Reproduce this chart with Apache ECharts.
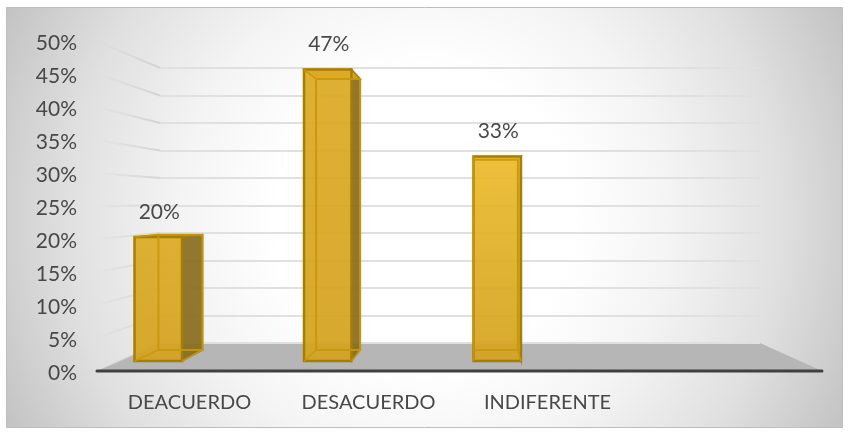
<!DOCTYPE html>
<html><head><meta charset="utf-8">
<style>html,body{margin:0;padding:0;background:#fff}#c{width:849px;height:433px}</style>
<script src="https://cdn.jsdelivr.net/npm/echarts@6/dist/echarts.min.js"></script>
</head><body><div id="c"></div>
<script>
const categories = ['DEACUERDO', 'DESACUERDO', 'INDIFERENTE', ''];
const values = [0.20, 0.47, 0.33];
const wallTicks = [0, 0.05, 0.10, 0.15, 0.20, 0.25, 0.30, 0.35, 0.40, 0.45, 0.50];

// layout of the pseudo-3D box
const front = { left: 97, right: 822, top: 41, bottom: 371 };
const labelGrid = { left: 100, width: 716, shift: 2 };
const back = { left: 160, right: 760, top: 68, bottom: 343 };
const plane = { left: 73.5, width: 678, top: 51, bottom: 361 };
const vanish = [476, 204], depth = 0.07, barFrac = 0.28;
const font = 'Lato, "Open Sans", sans-serif', textColor = '#484848';

const chart = echarts.init(document.getElementById('c'), null, { renderer: 'canvas' });
const backY = v => back.bottom - (v / 0.5) * (back.bottom - back.top);
const toBack = p => [p[0] + depth * (vanish[0] - p[0]), p[1] + depth * (vanish[1] - p[1])];
const pct = v => Math.round(v * 100) + '%';

function renderBar(params, api) {
  const cat = api.value(0), val = api.value(1);
  const b = api.coord([cat, 0]), t = api.coord([cat, val]);
  const w = api.size([1, 0])[0] * barFrac;
  const fbl = [b[0] - w / 2, b[1]], fbr = [b[0] + w / 2, b[1]];
  const ftl = [t[0] - w / 2, t[1]], ftr = [t[0] + w / 2, t[1]];
  const [bbl, bbr, btl, btr] = [fbl, fbr, ftl, ftr].map(toBack);
  const face = (pts, fill, stroke, lw) => ({
    type: 'polygon', shape: { points: pts },
    style: { fill: fill, stroke: stroke, lineWidth: lw, lineJoin: 'miter' }
  });
  const seg = (p, q, stroke, lw) => ({
    type: 'line', shape: { x1: p[0], y1: p[1], x2: q[0], y2: q[1] },
    style: { stroke: stroke, lineWidth: lw }
  });
  const col = new echarts.graphic.LinearGradient(0, 0, 0, 1, [
    { offset: 0, color: cat === 2 ? 'rgba(236,186,44,0.92)' : 'rgba(220,170,36,0.93)' },
    { offset: 1, color: 'rgba(212,162,30,0.93)' }
  ]);
  const inner = 'rgba(198,152,10,0.9)', edge = '#a67e04';
  const none = 'rgba(0,0,0,0)';
  return {
    type: 'group',
    children: [
      face([fbr, bbr, btr, ftr], 'rgba(136,108,28,0.92)', '#a58412', 1.5),
      face([ftl, ftr, btr, btl], 'rgba(216,168,36,0.95)', edge, 1.5),
      face([fbl, fbr, ftr, ftl], col, edge, 2.5),
      face([bbl, bbr, btr, btl], none, inner, 2),
      seg(fbl, bbl, inner, 1.5),
      seg(fbr, bbr, inner, 1.5),
      seg(ftl, btl, inner, 1.5),
      {
        type: 'text',
        style: {
          x: t[0] + 1, y: t[1] - 25, text: pct(val), fill: textColor,
          font: '21px ' + font, align: 'center', verticalAlign: 'middle'
        }
      }
    ]
  };
}

function renderWallLine(params, api) {
  const v = api.value(0);
  const f = api.coord([0, v]);
  const x0 = front.left, y0 = f[1] - labelGrid.shift, x1 = back.left, y1 = backY(v);
  return {
    type: 'line',
    shape: { x1: x0, y1: y0, x2: x1, y2: y1 },
    style: {
      lineWidth: 2,
      stroke: new echarts.graphic.LinearGradient(0, 0, 1, 0, [
        { offset: 0, color: 'rgba(208,208,208,0)' },
        { offset: 1, color: 'rgba(208,208,208,0.9)' }
      ])
    }
  };
}

chart.setOption({
  animation: false,
  backgroundColor: '#fff',
  graphic: [
    {
      type: 'rect', z: -10, silent: true,
      shape: { x: 6.5, y: 7.5, width: 836, height: 420 },
      style: {
        stroke: '#bdbdbd', lineWidth: 1,
        fill: new echarts.graphic.RadialGradient(0.5, 0.5, 1.1, [
          { offset: 0, color: '#ffffff' },
          { offset: 0.32, color: '#ffffff' },
          { offset: 0.53, color: '#f4f4f4' },
          { offset: 0.77, color: '#e0e0e0' },
          { offset: 1, color: '#c4c4c4' }
        ])
      }
    },
    {
      type: 'polygon', z: -5, silent: true,
      shape: { points: [[back.left, back.bottom], [back.right, back.bottom], [front.right, front.bottom], [front.left, front.bottom]] },
      style: { fill: '#b6b6b6' }
    },
    {
      type: 'line', z: 2, silent: true,
      shape: { x1: front.left, y1: front.bottom, x2: front.right, y2: front.bottom },
      style: { stroke: '#404040', lineWidth: 3, lineCap: 'round' }
    }
  ],
  grid: [
    { left: labelGrid.left, width: labelGrid.width, top: front.top + labelGrid.shift, height: front.bottom - front.top },
    { left: back.left, width: back.right - back.left, top: back.top, height: back.bottom - back.top },
    { left: plane.left, width: plane.width, top: plane.top, height: plane.bottom - plane.top }
  ],
  xAxis: [
    {
      gridIndex: 0, type: 'category', data: categories,
      axisTick: { show: false }, axisLine: { show: false },
      axisLabel: { color: textColor, fontFamily: font, fontSize: 20, margin: 20, interval: 0 }
    },
    { gridIndex: 1, type: 'category', data: categories, show: false },
    { gridIndex: 2, type: 'category', data: categories, show: false }
  ],
  yAxis: [
    {
      gridIndex: 0, type: 'value', min: 0, max: 0.5, interval: 0.05,
      axisLine: { show: false }, axisTick: { show: false }, splitLine: { show: false },
      axisLabel: { color: textColor, fontFamily: font, fontSize: 21, margin: 23, formatter: pct }
    },
    {
      gridIndex: 1, type: 'value', min: 0, max: 0.5, interval: 0.05,
      axisLine: { show: false }, axisTick: { show: false }, axisLabel: { show: false },
      splitLine: { show: true, lineStyle: { color: '#e0e0e0', width: 2 } }
    },
    { gridIndex: 2, type: 'value', min: 0, max: 0.5, show: false, splitLine: { show: false } }
  ],
  series: [
    {
      type: 'custom', xAxisIndex: 0, yAxisIndex: 0, z: 1, silent: true, clip: false,
      data: wallTicks.map(v => [v]), encode: { x: -1, y: 0 },
      renderItem: renderWallLine
    },
    {
      type: 'custom', xAxisIndex: 2, yAxisIndex: 2, z: 5, silent: true, clip: false,
      data: values.map((v, i) => [i, v]), encode: { x: 0, y: 1 },
      renderItem: renderBar
    }
  ]
});
</script></body></html>
